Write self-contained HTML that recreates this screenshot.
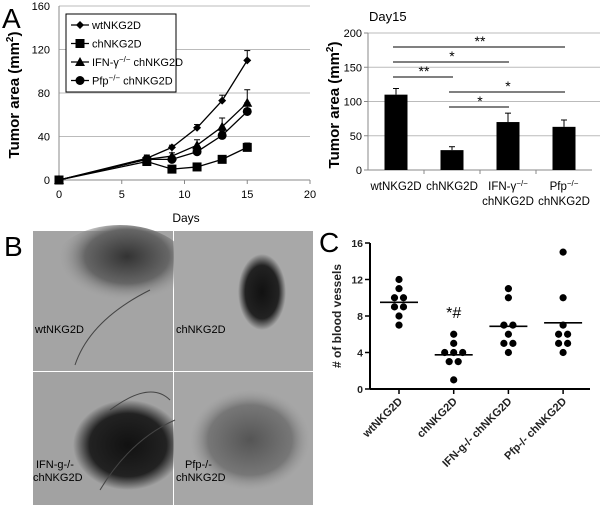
<!DOCTYPE html>
<html><head><meta charset="utf-8">
<style>
body{margin:0;background:#fff;width:600px;height:508px;overflow:hidden;font-family:"Liberation Sans",sans-serif}
svg{position:absolute;left:0;top:0}
</style></head>
<body>
<svg id="fig" width="600" height="508" xmlns="http://www.w3.org/2000/svg" font-family="Liberation Sans, sans-serif">
<defs>
<radialGradient id="g1" cx="0.55" cy="0.35" r="0.5"><stop offset="0" stop-color="#333"/><stop offset="0.6" stop-color="#666"/><stop offset="1" stop-color="#a6a6a6" stop-opacity="0"/></radialGradient>
<radialGradient id="g2" cx="0.5" cy="0.5" r="0.5"><stop offset="0" stop-color="#111"/><stop offset="0.7" stop-color="#222"/><stop offset="1" stop-color="#222" stop-opacity="0"/></radialGradient>
<radialGradient id="g3" cx="0.5" cy="0.5" r="0.5"><stop offset="0" stop-color="#555"/><stop offset="0.7" stop-color="#777"/><stop offset="1" stop-color="#999" stop-opacity="0"/></radialGradient>
</defs>
<text x="2" y="28" font-size="28">A</text>
<text x="4" y="256" font-size="28">B</text>
<text x="319" y="252" font-size="28">C</text>
<g id="lineChart"></g>
<g id="barChart"></g>
<g id="dotChart"></g>
<g id="photos">
<rect x="33" y="231" width="140" height="140" fill="#a4a4a4"/>
<ellipse cx="120" cy="270" rx="70" ry="45" fill="url(#g1)"/>
<rect x="174" y="231" width="139" height="140" fill="#a8a8a8"/>
<ellipse cx="262" cy="292" rx="24" ry="38" fill="url(#g2)"/>
<rect x="33" y="372" width="140" height="133" fill="#a2a2a2"/>
<ellipse cx="128" cy="445" rx="55" ry="45" fill="url(#g2)"/>
<rect x="174" y="372" width="139" height="133" fill="#a6a6a6"/>
<ellipse cx="250" cy="440" rx="60" ry="50" fill="url(#g3)"/>
<path d="M75 365 Q90 320 150 290 M100 490 Q130 440 175 420 M110 410 Q150 380 170 400" stroke="#444" fill="none" stroke-width="1"/>
<text x="35" y="333" font-size="11">wtNKG2D</text>
<text x="176" y="333" font-size="11">chNKG2D</text>
<text x="36" y="468" font-size="11">IFN-g-/-</text>
<text x="33" y="481" font-size="11">chNKG2D</text>
<text x="185" y="468" font-size="11">Pfp-/-</text>
<text x="176" y="481" font-size="11">chNKG2D</text>
</g>
</svg>
<script>
const NS="http://www.w3.org/2000/svg";
function mk(p,t,a){const e=document.createElementNS(NS,t);for(const k in a)e.setAttribute(k,a[k]);p.appendChild(e);return e;}

// ---- Line chart A ----
const days=[0,7,9,11,13,15];
const wtVals=[0,20,30,48,73,110];
const chVals=[0,17,10,12,19,30];
const ifnVals=[0,19,22,32,49,71];
const pfpVals=[0,19,19,26,41,63];
const wtErr=[0,3,2,3,5,9];
const chErr=[0,2,1,1,2,4];
const ifnErr=[0,3,3,5,8,12];
const pfpErr=[0,2,2,3,4,8];
const lineYTicks=[0,40,80,120,160];
const lineXTicks=[0,5,10,15,20];
const lx=v=>59+v*12.55, ly=v=>180-v*1.0875;
const L=document.getElementById('lineChart');
lineYTicks.forEach(t=>{
 if(t>0){const g=mk(L,'line',{x1:59,x2:310,y1:ly(t),y2:ly(t),stroke:'#bbb','stroke-width':1});
 
 }
 const tx=mk(L,'text',{x:50,y:ly(t)+4,'font-size':11,'text-anchor':'end'});tx.textContent=t;
 
 
});
lineXTicks.forEach(t=>{
 const tx=mk(L,'text',{x:lx(t),y:198,'font-size':11,'text-anchor':'middle'});tx.textContent=t;
 
 
 mk(L,'line',{x1:lx(t),x2:lx(t),y1:180,y2:184,stroke:'#888'});
});
mk(L,'line',{x1:59,x2:310,y1:180,y2:180,stroke:'#888'});
mk(L,'line',{x1:59,x2:59,y1:6,y2:180,stroke:'#888'});
const lxt=mk(L,'text',{x:186,y:222,'font-size':12,'text-anchor':'middle'});lxt.textContent='Days';


const lyt=mk(L,'text',{x:0,y:0,'font-size':15,'font-weight':'bold','text-anchor':'middle',transform:'translate(19,95) rotate(-90)'});
lyt.innerHTML='Tumor area (mm<tspan font-size="10" dy="-6">2</tspan><tspan dy="6">)</tspan>';


function marker(p,type,x,y){
 if(type==='diamond')return mk(p,'path',{d:`M${x} ${y-4}L${x+4} ${y}L${x} ${y+4}L${x-4} ${y}Z`,fill:'#000'});
 if(type==='square')return mk(p,'rect',{x:x-4.5,y:y-4.5,width:9,height:9,fill:'#000'});
 if(type==='triangle')return mk(p,'path',{d:`M${x} ${y-5}L${x+5} ${y+4}L${x-5} ${y+4}Z`,fill:'#000'});
 return mk(p,'circle',{cx:x,cy:y,r:4.5,fill:'#000'});
}
const series=[[wtVals,wtErr,'diamond','wt'],[chVals,chErr,'square','ch'],[ifnVals,ifnErr,'triangle','ifn'],[pfpVals,pfpErr,'circle','pfp']];
series.forEach(([vals,err,m,nm])=>{
 const g=mk(L,'g',{});
 
 
 vals.forEach((v,i)=>{if(err[i]>0){const x=lx(days[i]);mk(g,'line',{x1:x,x2:x,y1:ly(v),y2:ly(v+err[i]),stroke:'#000'});mk(g,'line',{x1:x-3,x2:x+3,y1:ly(v+err[i]),y2:ly(v+err[i]),stroke:'#000'});}});
 mk(g,'polyline',{points:vals.map((v,i)=>lx(days[i])+','+ly(v)).join(' '),fill:'none',stroke:'#000','stroke-width':1.3});
 vals.forEach((v,i)=>{const mm=marker(g,m,lx(days[i]),ly(v));});
});
const leg=mk(L,'g',{});


mk(leg,'rect',{x:66,y:14,width:110,height:78,fill:'#fff',stroke:'#000'});
const legNames=['wtNKG2D','chNKG2D','IFN-γ<tspan font-size="8" dy="-4">−/−</tspan><tspan dy="4"> chNKG2D</tspan>','Pfp<tspan font-size="8" dy="-4">−/−</tspan><tspan dy="4"> chNKG2D</tspan>'];
const legM=['diamond','square','triangle','circle'];
legNames.forEach((n,i)=>{const y=25+i*18.5;
 mk(leg,'line',{x1:71,x2:89,y1:y,y2:y,stroke:'#000','stroke-width':1.3});marker(leg,legM[i],80,y);
 const t=mk(leg,'text',{x:92,y:y+4,'font-size':11});t.innerHTML=n;
 
 });

// ---- Bar chart Day15 ----
const barCats=[['wtNKG2D'],['chNKG2D'],['IFN-γ<tspan font-size="8" dy="-4">−/−</tspan>','chNKG2D'],['Pfp<tspan font-size="8" dy="-4">−/−</tspan>','chNKG2D']];
const barVals=[110,29,70,63];
const barErr=[9,5,13,10];
const barTicks=[0,50,100,150,200];
const sigPairs=[[0,3,'**'],[0,2,'*'],[0,1,'**'],[1,3,'*'],[1,2,'*']];
const sigY=[47,62,77,92,107];
const B=document.getElementById('barChart');
const bx=i=>368+28+i*56, by=v=>170-v*0.685;
barTicks.forEach(t=>{
 if(t>0)mk(B,'line',{x1:368,x2:600,y1:by(t),y2:by(t),stroke:'#bbb'});
 const tx=mk(B,'text',{x:362,y:by(t)+4,'font-size':11,'text-anchor':'end'});tx.textContent=t;
 
 
 mk(B,'line',{x1:364,x2:368,y1:by(t),y2:by(t),stroke:'#888'});
});
mk(B,'line',{x1:368,x2:368,y1:by(200),y2:170,stroke:'#888'});
mk(B,'line',{x1:368,x2:592,y1:170,y2:170,stroke:'#888'});
const bt=mk(B,'text',{x:369,y:21,'font-size':13});bt.textContent='Day15';


const byt=mk(B,'text',{x:0,y:0,'font-size':15,'font-weight':'bold','text-anchor':'middle',transform:'translate(339,105) rotate(-90)'});
byt.innerHTML='Tumor area (mm<tspan font-size="10" dy="-6">2</tspan><tspan dy="6">)</tspan>';


barVals.forEach((v,i)=>{
 const x=bx(i);
 const e1=mk(B,'line',{x1:x,x2:x,y1:by(v),y2:by(v+barErr[i]),stroke:'#000'});
 mk(B,'line',{x1:x-3,x2:x+3,y1:by(v+barErr[i]),y2:by(v+barErr[i]),stroke:'#000'});
 const r=mk(B,'rect',{x:x-11.5,y:by(v),width:23,height:170-by(v),fill:'#000'});
 
 
 if(i>0)mk(B,'line',{x1:368+i*56,x2:368+i*56,y1:170,y2:174,stroke:'#888'});
 barCats[i].forEach((l,j)=>{const t=mk(B,'text',{x:x,y:190+j*15,'font-size':11.5,'text-anchor':'middle'});t.innerHTML=l;
 
 });
});
sigPairs.forEach(([a,b,s],k)=>{
 const y=sigY[k];
 const ln=mk(B,'line',{x1:bx(a)-3,x2:bx(b)+1,y1:y,y2:y,stroke:'#000'});
 
 
 const t=mk(B,'text',{x:(bx(a)+bx(b))/2,y:y-1,'font-size':14,'text-anchor':'middle'});t.textContent=s;
 
 
});

// ---- Dot plot C ----
const dotCats=['wtNKG2D','chNKG2D','IFN-g-/- chNKG2D','Pfp-/- chNKG2D'];
const wtDots=[12,11,10,10,9,9,8,7];
const chDots=[6,5,4,4,4,3,3,1];
const ifnDots=[11,10,7,7,6,5,5,4];
const pfpDots=[15,10,7,6,6,5,5,4];
const dotTicks=[0,4,8,12,16];
const D=document.getElementById('dotChart');
const dx=i=>399+i*54.7, dy=v=>389-v*9.125;
mk(D,'line',{x1:370,x2:370,y1:dy(16),y2:389,stroke:'#000','stroke-width':2});
mk(D,'line',{x1:370,x2:590,y1:389,y2:389,stroke:'#000','stroke-width':2});
dotTicks.forEach(t=>{mk(D,'line',{x1:365,x2:370,y1:dy(t),y2:dy(t),stroke:'#000','stroke-width':1.5});
 const tx=mk(D,'text',{x:363,y:dy(t)+4,'font-size':10.5,'font-weight':'bold','text-anchor':'end','fill':'#222'});tx.textContent=t;
 
 });
const dyt=mk(D,'text',{x:0,y:0,'font-size':12,'font-weight':'bold','text-anchor':'middle',fill:'#222',transform:'translate(341,316) rotate(-90)'});dyt.textContent='# of blood vessels';


[wtDots,chDots,ifnDots,pfpDots].forEach((arr,i)=>{
 const cx=dx(i);
 mk(D,'line',{x1:cx,x2:cx,y1:389,y2:394,stroke:'#000','stroke-width':1.5});
 const cnt={};arr.forEach(v=>cnt[v]=(cnt[v]||0)+1);const seen={};
 arr.forEach(v=>{const n=cnt[v];seen[v]=(seen[v]||0);const off=(seen[v]-(n-1)/2)*9;seen[v]++;
  const c=mk(D,'circle',{cx:cx+off,cy:dy(v),r:3.6,fill:'#000'});
  
  });
 const mean=arr.reduce((a,b)=>a+b,0)/arr.length;
 const ml=mk(D,'line',{x1:cx-19,x2:cx+19,y1:dy(mean),y2:dy(mean),stroke:'#000','stroke-width':1.6});
 
 
 const t=mk(D,'text',{x:0,y:0,'font-size':11,'font-weight':'bold','text-anchor':'end',fill:'#222',transform:`translate(${cx+4},${402}) rotate(-45)`});t.textContent=dotCats[i];
 
 
});
const st=mk(D,'text',{x:dx(1),y:318,'font-size':16,'text-anchor':'middle'});st.textContent='*#';


</script>
</body></html>
